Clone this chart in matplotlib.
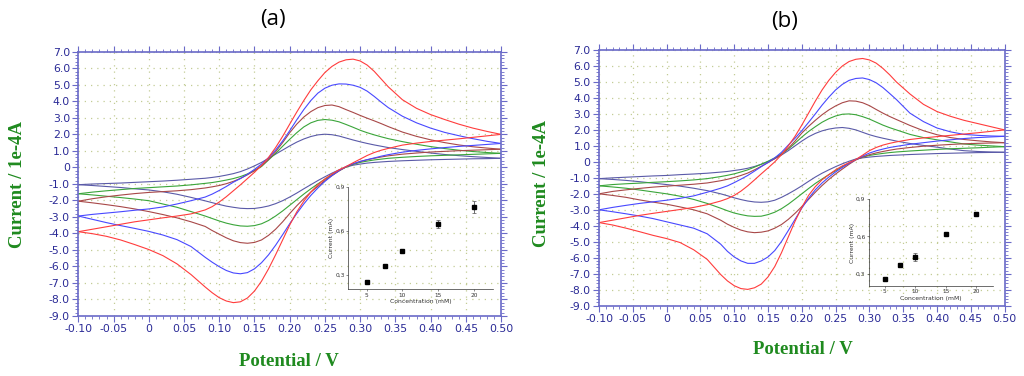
import matplotlib
matplotlib.use("Agg")
import matplotlib.pyplot as plt
from matplotlib.ticker import MultipleLocator, FuncFormatter

# potential grid (V) shared by every sweep, finer around the peaks
potential = [-0.10, -0.08, -0.06, -0.04, -0.02, 0.00, 0.02, 0.04, 0.06, 0.08,
             0.09, 0.10, 0.11, 0.12, 0.13, 0.14, 0.15, 0.16, 0.17, 0.18,
             0.19, 0.20, 0.21, 0.22, 0.23, 0.24, 0.25, 0.26, 0.27, 0.28,
             0.29, 0.30, 0.31, 0.32, 0.33, 0.34,
             0.36, 0.38, 0.40, 0.42, 0.44, 0.46, 0.48, 0.50]

# ---- panel (a), current in 1e-4 A, forward (anodic) and reverse (cathodic) sweeps
a_purple_fwd = [-1.05, -1.01, -0.98, -0.95, -0.91, -0.87, -0.83, -0.78, -0.72, -0.66,
                -0.61, -0.55, -0.47, -0.38, -0.26, -0.10, 0.09, 0.30, 0.55, 0.80,
                1.05, 1.30, 1.53, 1.72, 1.87, 1.97, 2.01, 1.98, 1.90, 1.78,
                1.66, 1.55, 1.45, 1.36, 1.28, 1.20,
                1.08, 0.97, 0.87, 0.78, 0.71, 0.65, 0.60, 0.55]
a_purple_rev = [-1.05, -1.10, -1.16, -1.22, -1.30, -1.37, -1.48, -1.63, -1.82, -2.03,
                -2.14, -2.25, -2.35, -2.42, -2.48, -2.50, -2.49, -2.43, -2.34, -2.20,
                -2.02, -1.80, -1.56, -1.30, -1.05, -0.80, -0.57, -0.35, -0.15, 0.02,
                0.13, 0.20, 0.26, 0.30, 0.33, 0.36,
                0.40, 0.43, 0.46, 0.48, 0.50, 0.52, 0.53, 0.55]
a_green_fwd = [-1.60, -1.50, -1.42, -1.35, -1.28, -1.23, -1.18, -1.13, -1.06, -0.97,
               -0.92, -0.85, -0.77, -0.68, -0.56, -0.40, -0.20, 0.05, 0.45, 0.85,
               1.28, 1.70, 2.10, 2.45, 2.70, 2.85, 2.90, 2.86, 2.76, 2.60,
               2.43, 2.25, 2.10, 1.97, 1.85, 1.74,
               1.56, 1.40, 1.26, 1.14, 1.04, 0.96, 0.90, 0.85]
a_green_rev = [-1.60, -1.67, -1.75, -1.83, -1.92, -2.02, -2.22, -2.42, -2.68, -2.95,
               -3.10, -3.25, -3.38, -3.48, -3.55, -3.57, -3.53, -3.42, -3.22, -2.95,
               -2.64, -2.30, -1.96, -1.62, -1.30, -1.00, -0.72, -0.45, -0.20, 0.02,
               0.18, 0.30, 0.38, 0.45, 0.50, 0.55,
               0.61, 0.66, 0.70, 0.73, 0.76, 0.79, 0.82, 0.85]
a_brown_fwd = [-2.05, -1.90, -1.78, -1.68, -1.59, -1.52, -1.47, -1.42, -1.35, -1.25,
               -1.18, -1.10, -0.99, -0.85, -0.67, -0.45, -0.20, 0.10, 0.48, 0.95,
               1.50, 2.10, 2.62, 3.05, 3.38, 3.62, 3.75, 3.78, 3.68, 3.50,
               3.33, 3.15, 2.98, 2.82, 2.65, 2.47,
               2.14, 1.88, 1.67, 1.50, 1.36, 1.25, 1.17, 1.10]
a_brown_rev = [-2.05, -2.15, -2.26, -2.38, -2.52, -2.68, -2.86, -3.06, -3.30, -3.58,
               -3.83, -4.05, -4.27, -4.45, -4.56, -4.60, -4.55, -4.40, -4.12, -3.75,
               -3.30, -2.80, -2.33, -1.90, -1.50, -1.15, -0.80, -0.50, -0.22, 0.03,
               0.21, 0.35, 0.46, 0.55, 0.63, 0.70,
               0.80, 0.87, 0.93, 0.97, 1.01, 1.04, 1.07, 1.10]
a_blue_fwd = [-2.95, -2.85, -2.77, -2.69, -2.60, -2.52, -2.40, -2.22, -2.02, -1.80,
              -1.62, -1.40, -1.16, -0.90, -0.68, -0.42, -0.12, 0.20, 0.58, 1.05,
              1.60, 2.22, 2.88, 3.50, 4.05, 4.50, 4.80, 4.98, 5.06, 5.05,
              4.98, 4.85, 4.62, 4.30, 3.95, 3.62,
              3.10, 2.70, 2.38, 2.12, 1.92, 1.74, 1.58, 1.45]
a_blue_rev = [-2.95, -3.15, -3.35, -3.53, -3.70, -3.88, -4.10, -4.38, -4.80, -5.45,
              -5.75, -6.02, -6.25, -6.40, -6.45, -6.38, -6.15, -5.78, -5.30, -4.72,
              -4.08, -3.42, -2.80, -2.22, -1.70, -1.25, -0.85, -0.50, -0.20, 0.05,
              0.22, 0.36, 0.47, 0.57, 0.68, 0.77,
              0.92, 1.03, 1.12, 1.20, 1.27, 1.33, 1.39, 1.45]
a_red_fwd = [-3.90, -3.75, -3.60, -3.45, -3.30, -3.18, -3.06, -2.95, -2.82, -2.58,
             -2.38, -2.10, -1.78, -1.42, -1.06, -0.68, -0.30, 0.12, 0.60, 1.20,
             1.88, 2.62, 3.35, 4.05, 4.70, 5.25, 5.75, 6.12, 6.38, 6.52,
             6.56, 6.45, 6.20, 5.82, 5.35, 4.88,
             4.10, 3.58, 3.20, 2.90, 2.62, 2.38, 2.18, 2.00]
a_red_rev = [-3.90, -4.02, -4.18, -4.40, -4.68, -4.98, -5.35, -5.85, -6.50, -7.25,
             -7.60, -7.90, -8.10, -8.20, -8.15, -7.92, -7.50, -6.90, -6.15, -5.30,
             -4.40, -3.50, -2.70, -2.05, -1.50, -1.05, -0.70, -0.40, -0.15, 0.05,
             0.28, 0.50, 0.72, 0.90, 1.04, 1.15,
             1.35, 1.47, 1.57, 1.65, 1.73, 1.82, 1.91, 2.00]

# ---- panel (b)
b_purple_fwd = [-1.05, -1.00, -0.96, -0.92, -0.88, -0.85, -0.80, -0.76, -0.71, -0.64,
                -0.60, -0.54, -0.48, -0.40, -0.29, -0.15, 0.01, 0.20, 0.43, 0.70,
                1.00, 1.30, 1.57, 1.78, 1.94, 2.05, 2.12, 2.15, 2.10, 2.00,
                1.85, 1.70, 1.58, 1.48, 1.39, 1.30,
                1.15, 1.03, 0.92, 0.80, 0.70, 0.65, 0.62, 0.60]
b_purple_rev = [-1.05, -1.10, -1.16, -1.24, -1.33, -1.42, -1.52, -1.65, -1.80, -2.00,
                -2.12, -2.25, -2.36, -2.45, -2.51, -2.53, -2.50, -2.40, -2.22, -2.00,
                -1.76, -1.50, -1.22, -0.95, -0.71, -0.50, -0.30, -0.12, 0.04, 0.18,
                0.25, 0.30, 0.34, 0.37, 0.40, 0.42,
                0.46, 0.49, 0.52, 0.54, 0.56, 0.58, 0.59, 0.60]
b_green_fwd = [-1.50, -1.42, -1.37, -1.33, -1.28, -1.24, -1.19, -1.13, -1.05, -0.92,
               -0.84, -0.75, -0.63, -0.50, -0.33, -0.15, 0.04, 0.25, 0.50, 0.80,
               1.17, 1.55, 1.90, 2.20, 2.48, 2.70, 2.87, 2.98, 3.00, 2.95,
               2.83, 2.68, 2.49, 2.30, 2.14, 2.00,
               1.72, 1.52, 1.38, 1.25, 1.12, 1.05, 1.00, 0.95]
b_green_rev = [-1.50, -1.57, -1.65, -1.76, -1.88, -2.00, -2.15, -2.35, -2.60, -2.90,
               -3.06, -3.20, -3.30, -3.38, -3.41, -3.40, -3.30, -3.15, -2.93, -2.65,
               -2.33, -2.00, -1.67, -1.35, -1.07, -0.80, -0.55, -0.30, -0.07, 0.15,
               0.30, 0.40, 0.47, 0.53, 0.58, 0.62,
               0.68, 0.73, 0.78, 0.82, 0.85, 0.88, 0.92, 0.95]
b_brown_fwd = [-2.00, -1.85, -1.75, -1.66, -1.58, -1.52, -1.46, -1.40, -1.32, -1.18,
               -1.09, -0.98, -0.85, -0.70, -0.50, -0.28, -0.05, 0.20, 0.48, 0.85,
               1.30, 1.80, 2.22, 2.60, 2.95, 3.25, 3.50, 3.70, 3.82, 3.80,
               3.70, 3.52, 3.28, 3.05, 2.84, 2.65,
               2.28, 1.95, 1.70, 1.52, 1.40, 1.32, 1.25, 1.20]
b_brown_rev = [-2.00, -2.10, -2.22, -2.38, -2.52, -2.65, -2.82, -3.00, -3.25, -3.65,
               -3.90, -4.10, -4.27, -4.38, -4.43, -4.40, -4.32, -4.15, -3.92, -3.60,
               -3.22, -2.80, -2.35, -1.90, -1.48, -1.10, -0.76, -0.45, -0.15, 0.12,
               0.30, 0.45, 0.56, 0.65, 0.73, 0.80,
               0.90, 0.98, 1.04, 1.09, 1.13, 1.16, 1.18, 1.20]
b_blue_fwd = [-3.00, -2.85, -2.72, -2.60, -2.50, -2.40, -2.28, -2.13, -1.90, -1.65,
              -1.50, -1.30, -1.08, -0.85, -0.58, -0.30, -0.03, 0.25, 0.60, 1.05,
              1.48, 1.95, 2.47, 3.00, 3.55, 4.05, 4.50, 4.85, 5.10, 5.22,
              5.25, 5.15, 4.95, 4.65, 4.28, 3.90,
              3.05, 2.52, 2.12, 1.88, 1.72, 1.66, 1.62, 1.60]
b_blue_rev = [-3.00, -3.12, -3.25, -3.39, -3.55, -3.75, -3.95, -4.15, -4.50, -5.15,
              -5.60, -5.95, -6.20, -6.35, -6.35, -6.20, -5.95, -5.55, -4.98, -4.30,
              -3.60, -2.90, -2.28, -1.75, -1.32, -0.95, -0.63, -0.35, -0.09, 0.15,
              0.36, 0.55, 0.69, 0.80, 0.90, 0.97,
              1.10, 1.20, 1.30, 1.38, 1.46, 1.52, 1.56, 1.60]
b_red_fwd = [-3.80, -3.65, -3.50, -3.35, -3.22, -3.10, -2.98, -2.85, -2.68, -2.45,
             -2.30, -2.10, -1.83, -1.50, -1.13, -0.75, -0.38, 0.00, 0.45, 1.00,
             1.60, 2.30, 3.05, 3.80, 4.50, 5.10, 5.60, 6.00, 6.28, 6.42,
             6.47, 6.38, 6.18, 5.85, 5.45, 5.00,
             4.25, 3.60, 3.15, 2.85, 2.60, 2.40, 2.20, 2.00]
b_red_rev = [-3.80, -3.95, -4.15, -4.37, -4.60, -4.80, -5.05, -5.50, -6.10, -7.05,
             -7.45, -7.75, -7.93, -7.98, -7.88, -7.65, -7.20, -6.55, -5.68, -4.70,
             -3.72, -2.85, -2.10, -1.55, -1.12, -0.80, -0.50, -0.25, -0.05, 0.15,
             0.42, 0.70, 0.90, 1.05, 1.16, 1.25,
             1.40, 1.50, 1.58, 1.66, 1.74, 1.82, 1.91, 2.00]

# ---- insets: peak current vs concentration
conc = [5, 7.5, 10, 15, 20]
a_peak = [0.252, 0.356, 0.463, 0.646, 0.760]
a_err = [0.006, 0.006, 0.006, 0.026, 0.040]
b_peak = [0.260, 0.372, 0.434, 0.618, 0.782]
b_err = [0.005, 0.006, 0.030, 0.008, 0.012]

line_colors = ["#5a5aa8", "#3aa53a", "#a84848", "#4848ff", "#ff3c3c"]
spine_col = "#6a6ac8"
label_col = "#2a2a96"
title_green = "#1f8a1f"

fig = plt.figure(figsize=(10.24, 3.76), dpi=100)


def draw_panel(rect, sweeps):
    ax = fig.add_axes(rect)
    for (fwd, rev), c in zip(sweeps, line_colors):
        ax.plot(potential, fwd, color=c, lw=0.8)
        ax.plot(potential, rev, color=c, lw=0.8)
    ax.set_xlim(-0.10, 0.50)
    ax.set_ylim(-9.0, 7.0)
    ax.xaxis.set_major_locator(MultipleLocator(0.05))
    ax.xaxis.set_minor_locator(MultipleLocator(0.01))
    ax.yaxis.set_major_locator(MultipleLocator(1.0))
    ax.yaxis.set_minor_locator(MultipleLocator(0.2))
    ax.xaxis.set_major_formatter(FuncFormatter(lambda v, p: "0" if abs(v) < 1e-9 else "%.2f" % v))
    ax.yaxis.set_major_formatter(FuncFormatter(lambda v, p: "0" if abs(v) < 1e-9 else "%.1f" % v))
    ax.grid(which="major", linestyle=(0, (1, 4)), color="#c3cc95", lw=0.9)
    for s in ax.spines.values():
        s.set_color(spine_col)
        s.set_linewidth(1.2)
    ax.tick_params(which="both", direction="out", top=True, right=True,
                   color=spine_col, labelcolor=label_col, labelsize=7.8, pad=2)
    ax.tick_params(which="major", length=4, width=0.8)
    ax.tick_params(which="minor", length=2, width=0.6)
    return ax


def draw_inset(rect, y, err):
    ins = fig.add_axes(rect)
    ins.errorbar(conc, y, yerr=err, fmt="s", ms=2.2, color="black",
                 ecolor="#555555", elinewidth=0.6, capsize=1.5, capthick=0.5)
    ins.set_xlim(2.4, 22.7)
    ins.set_ylim(0.2, 0.9)
    ins.set_xticks([5, 10, 15, 20])
    ins.set_yticks([0.3, 0.6, 0.9])
    ins.set_yticklabels(["0,3", "0,6", "0,9"])
    for side in ["top", "right"]:
        ins.spines[side].set_visible(False)
    for side in ["left", "bottom"]:
        ins.spines[side].set_linewidth(0.5)
        ins.spines[side].set_color("#333333")
    ins.tick_params(labelsize=4.2, length=1.5, width=0.4, pad=1, colors="#333333")
    ins.set_xlabel("Concentration (mM)", fontsize=4.4, labelpad=1, color="#333333")
    ins.set_ylabel("Current (mA)", fontsize=4.4, labelpad=1, color="#333333")
    ins.patch.set_alpha(0)
    return ins


draw_panel([0.0765, 0.160, 0.4128, 0.702],
           [(a_purple_fwd, a_purple_rev), (a_green_fwd, a_green_rev), (a_brown_fwd, a_brown_rev),
            (a_blue_fwd, a_blue_rev), (a_red_fwd, a_red_rev)])
draw_panel([0.585, 0.187, 0.396, 0.680],
           [(b_purple_fwd, b_purple_rev), (b_green_fwd, b_green_rev), (b_brown_fwd, b_brown_rev),
            (b_blue_fwd, b_blue_rev), (b_red_fwd, b_red_rev)])

draw_inset([0.340, 0.231, 0.1416, 0.272], a_peak, a_err)
draw_inset([0.8486, 0.2394, 0.1211, 0.2314], b_peak, b_err)

label_font = dict(family="Liberation Serif", weight="bold", color=title_green)
fig.text(273 / 1024, 1 - 20 / 376, "(a)", ha="center", va="center", fontsize=16, family="Open Sans")
fig.text(785 / 1024, 1 - 22 / 376, "(b)", ha="center", va="center", fontsize=16, family="Open Sans")
fig.text(18 / 1024, 1 - 185 / 376, "Current / 1e-4A", rotation=90, ha="center", va="center",
         fontsize=13.5, **label_font)
fig.text(541 / 1024, 1 - 184 / 376, "Current / 1e-4A", rotation=90, ha="center", va="center",
         fontsize=13.5, **label_font)
fig.text(289 / 1024, 1 - 362 / 376, "Potential / V", ha="center", va="center",
         fontsize=13.5, **label_font)
fig.text(803 / 1024, 1 - 350 / 376, "Potential / V", ha="center", va="center",
         fontsize=13.5, **label_font)

fig.savefig("out.png", dpi=100)
